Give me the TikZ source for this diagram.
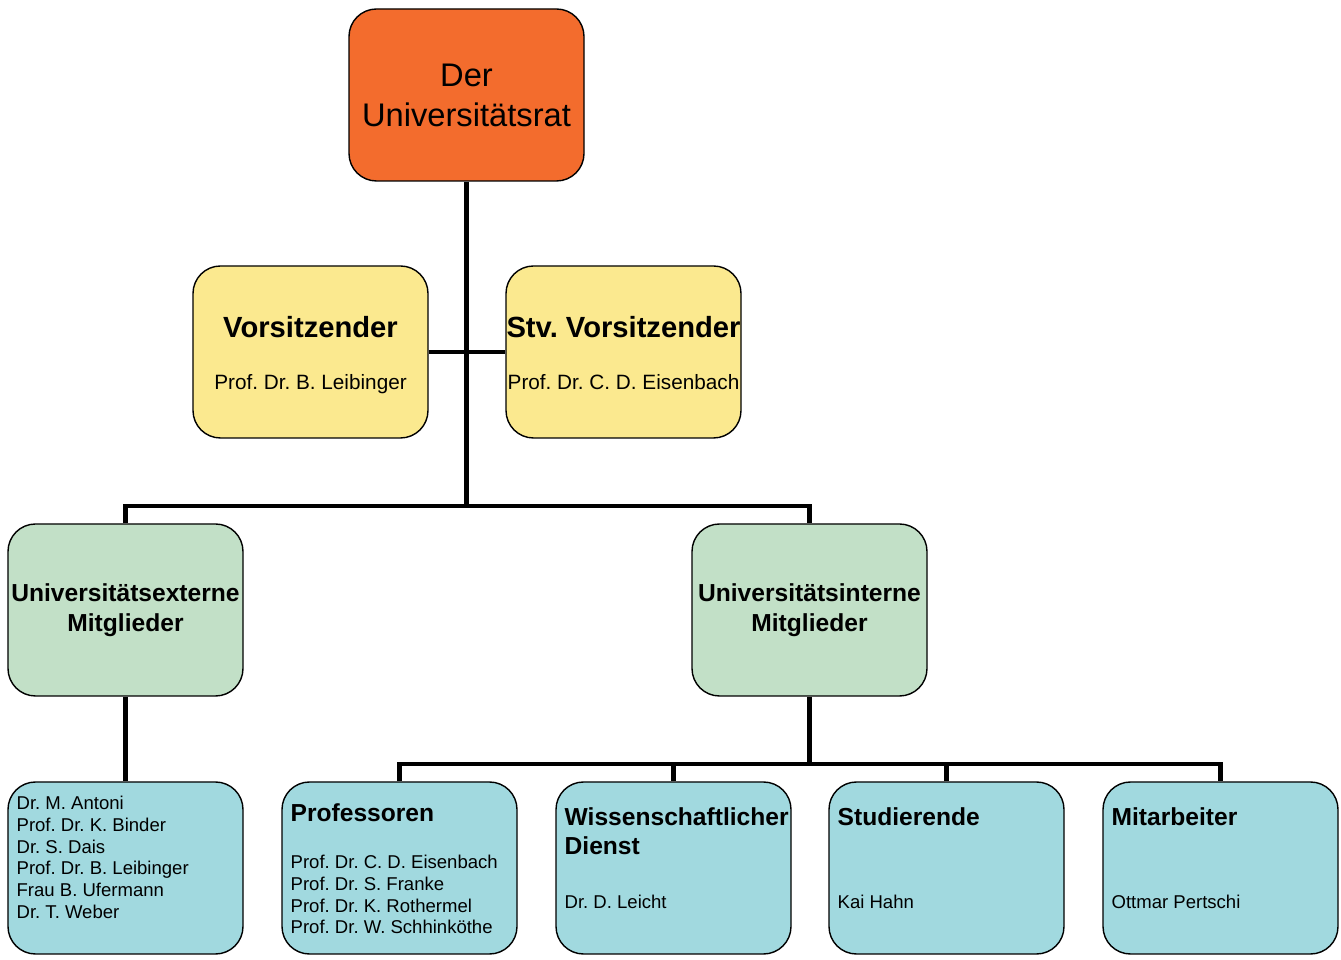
\documentclass[tikz,border=0pt]{standalone}
\usepackage{fontspec}
\setmainfont{Liberation Sans}
\usetikzlibrary{positioning}
\frenchspacing

\definecolor{ratorange}{HTML}{F36C2D}
\definecolor{vorsgelb}{HTML}{FBE98F}
\definecolor{gruppgruen}{HTML}{C2E0C7}
\definecolor{mitgltuerkis}{HTML}{A1D9DF}

\tikzset{
  orgbox/.style={draw, line width=0.8pt, rounded corners=0.55cm,
    minimum width=4.7cm, minimum height=3.44cm, inner sep=1pt, align=center},
  titel/.style={inner sep=0pt, font=\fontsize{14}{16.4}\selectfont\bfseries, align=left},
  namen/.style={inner sep=0pt, font=\fontsize{10.55}{12.5}\selectfont, align=left},
  linie/.style={line width=2.3pt}
}

\begin{document}
\begin{tikzpicture}
\useasboundingbox (0,0) rectangle (26.82,19.2);

% Universitaetsrat
\node[orgbox, fill=ratorange, font=\fontsize{18.6}{22.7}\selectfont] (rat) at (9.33, 17.30) {Der\\Universitätsrat};

% Vorsitz
\node[orgbox, fill=vorsgelb] (vors) at (6.21, 12.16) {};
\node[orgbox, fill=vorsgelb] (stv) at (12.47, 12.16) {};
\node[inner sep=0pt, anchor=base, font=\fontsize{16.6}{18}\selectfont\bfseries] (vorsT) at ([yshift=0.29cm]vors.center) {Vorsitzender};
\node[inner sep=0pt, anchor=base, font=\fontsize{11.8}{14}\selectfont] (vorsN) at ([yshift=-0.76cm]vors.center) {Prof. Dr. B. Leibinger};
\node[inner sep=0pt, anchor=base, font=\fontsize{16.6}{18}\selectfont\bfseries] (stvT) at ([yshift=0.29cm]stv.center) {Stv. Vorsitzender};
\node[inner sep=0pt, anchor=base, font=\fontsize{11.8}{14}\selectfont] (stvN) at ([yshift=-0.76cm]stv.center) {Prof. Dr. C. D. Eisenbach};

% Gruppen
\node[orgbox, fill=gruppgruen, font=\fontsize{14}{17}\selectfont\bfseries] (ext) at (2.51, 7.00) {Universitätsexterne\\Mitglieder};
\node[orgbox, fill=gruppgruen, font=\fontsize{14}{17}\selectfont\bfseries] (int) at (16.19, 7.00) {Universitätsinterne\\Mitglieder};

% Mitglieder
\node[orgbox, fill=mitgltuerkis] (extM) at (2.51, 1.84) {};
\node[orgbox, fill=mitgltuerkis] (prof) at (7.99, 1.84) {};
\node[orgbox, fill=mitgltuerkis] (wiss) at (13.47, 1.84) {};
\node[orgbox, fill=mitgltuerkis] (stud) at (18.93, 1.84) {};
\node[orgbox, fill=mitgltuerkis] (mit) at (24.41, 1.84) {};

\node[namen, below right=0.28cm and 0.18cm of extM.north west] (extN) {Dr. M. Antoni\\Prof. Dr. K. Binder\\Dr. S. Dais\\Prof. Dr. B. Leibinger\\Frau B. Ufermann\\Dr. T. Weber};
\node[titel, below right=0.45cm and 0.18cm of prof.north west] (profT) {Professoren};
\node[namen, below right=1.46cm and 0.18cm of prof.north west] (profN) {Prof. Dr. C. D. Eisenbach\\Prof. Dr. S. Franke\\Prof. Dr. K. Rothermel\\Prof. Dr. W. Schhinköthe};
\node[titel, below right=0.52cm and 0.18cm of wiss.north west] (wissT) {Wissenschaftlicher\\Dienst};
\node[namen, below right=2.26cm and 0.18cm of wiss.north west] (wissN) {Dr. D. Leicht};
\node[titel, below right=0.52cm and 0.18cm of stud.north west] (studT) {Studierende};
\node[namen, below right=2.26cm and 0.18cm of stud.north west] (studN) {Kai Hahn};
\node[titel, below right=0.52cm and 0.18cm of mit.north west] (mitT) {Mitarbeiter};
\node[namen, below right=2.26cm and 0.18cm of mit.north west] (mitN) {Ottmar Pertschi};

% Verbindungen
\coordinate (j1) at (9.33, 9.08);
\coordinate (j2) at (16.19, 3.92);
\draw[linie] (rat) -- (j1);
\draw[linie] (vors) -- (stv);
\draw[linie] (ext.north) |- (j1) -| (int.north);
\draw[linie] (ext) -- (extM);
\draw[linie] (int) -- (j2);
\draw[linie] (prof.north) |- (j2) -| (mit.north);
\draw[linie] (wiss.north) |- (j2);
\draw[linie] (stud.north) |- (j2);
\end{tikzpicture}
\end{document}
